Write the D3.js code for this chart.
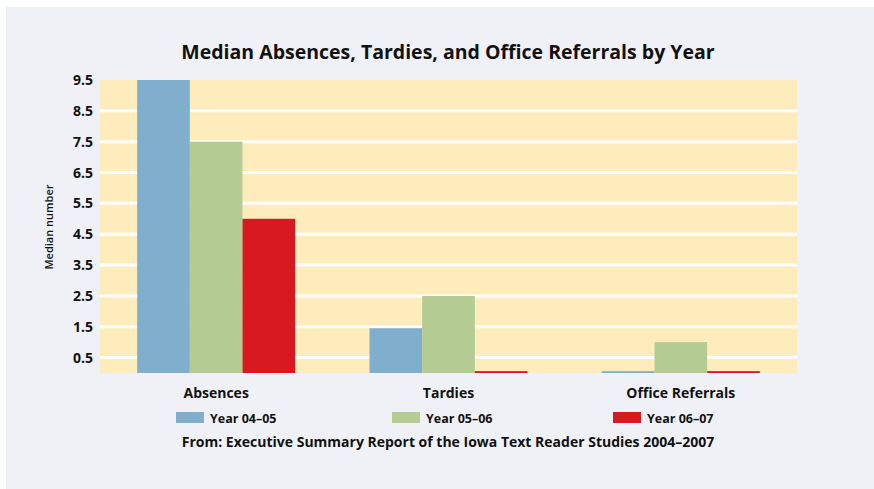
<!DOCTYPE html>
<meta charset="utf-8">
<style>
  body { margin: 0; background: #fff; }
  svg { display: block; font-family: "Open Sans", sans-serif; font-weight: bold; }
</style>
<body>
<script src="https://cdnjs.cloudflare.com/ajax/libs/d3/7.8.5/d3.min.js"></script>
<script>

// chart data
var categories = ["Absences", "Tardies", "Office Referrals"];
var years = ["Year 04\u201305", "Year 05\u201306", "Year 06\u201307"];
var year0405 = [9.5, 1.45, 0.06];
var year0506 = [7.5, 2.5, 1.0];
var year0607 = [5.0, 0.06, 0.06];
var yTicks = [0.5, 1.5, 2.5, 3.5, 4.5, 5.5, 6.5, 7.5, 8.5, 9.5];
var colors = ["#7fafcd", "#b4cc93", "#d91920"];

var series = [year0405, year0506, year0607];

var width = 874, height = 489;

var svg = d3.select("body").append("svg")
    .attr("width", width)
    .attr("height", height);

// grey panel
svg.append("rect")
    .attr("x", 6).attr("y", 7)
    .attr("width", width - 6).attr("height", height - 7)
    .attr("fill", "#f0f1f7");

var plot = {left: 100, right: 797, top: 80, bottom: 373};

var x = d3.scaleBand()
    .domain(categories)
    .range([plot.left, plot.right])
    .paddingInner(0.32)
    .paddingOuter(0.16);

var xSub = d3.scaleBand()
    .domain(d3.range(series.length))
    .range([0, x.bandwidth()]);

var y = d3.scaleLinear()
    .domain([0, 9.5])
    .range([plot.bottom, plot.top]);

// plot background
svg.append("rect")
    .attr("x", plot.left).attr("y", plot.top)
    .attr("width", plot.right - plot.left)
    .attr("height", plot.bottom - plot.top)
    .attr("fill", "#feecbd");

// white gridlines
svg.append("g")
  .selectAll("line")
  .data(yTicks.filter(function(d) { return d < 9.5; }))
  .enter().append("line")
    .attr("x1", plot.left).attr("x2", plot.right)
    .attr("y1", function(d) { return y(d); })
    .attr("y2", function(d) { return y(d); })
    .attr("stroke", "#fff")
    .attr("stroke-width", 3);

// bars
var groups = svg.append("g")
  .selectAll("g")
  .data(categories)
  .enter().append("g")
    .attr("transform", function(d) { return "translate(" + x(d) + ",0)"; });

groups.selectAll("rect")
  .data(function(d, i) { return series.map(function(s, j) { return {s: j, v: s[i]}; }); })
  .enter().append("rect")
    .attr("x", function(d) { return xSub(d.s); })
    .attr("width", xSub.bandwidth())
    .attr("y", function(d) { return y(d.v); })
    .attr("height", function(d) { return y(0) - y(d.v); })
    .attr("fill", function(d) { return colors[d.s]; });

// y axis
var yAxis = svg.append("g")
    .attr("transform", "translate(" + plot.left + ",0)")
    .call(d3.axisLeft(y).tickValues(yTicks).tickSize(0).tickPadding(7).tickFormat(d3.format(".1f")));
yAxis.select(".domain").remove();
yAxis.selectAll("text")
    .attr("font-family", "'Open Sans', sans-serif")
    .attr("font-weight", "bold")
    .attr("font-size", 14)
    .attr("fill", "#111");

svg.append("text")
    .attr("transform", "translate(53,227) rotate(-90)")
    .attr("text-anchor", "middle")
    .attr("font-size", 11)
    .attr("font-weight", 600)
    .attr("fill", "#111")
    .text("Median number");

// title
svg.append("text")
    .attr("x", 448).attr("y", 59)
    .attr("text-anchor", "middle")
    .attr("font-size", 19.5)
    .attr("fill", "#111")
    .text("Median Absences, Tardies, and Office Referrals by Year");

// category labels
svg.append("g")
  .selectAll("text")
  .data(categories)
  .enter().append("text")
    .attr("x", function(d) { return x(d) + x.bandwidth() / 2; })
    .attr("y", 398)
    .attr("text-anchor", "middle")
    .attr("font-size", 14)
    .attr("fill", "#111")
    .text(function(d) { return d; });

// legend
var legendX = [176, 392, 613];
var legend = svg.append("g")
  .selectAll("g")
  .data(years)
  .enter().append("g")
    .attr("transform", function(d, i) { return "translate(" + legendX[i] + ",412)"; });
legend.append("rect")
    .attr("width", 28).attr("height", 11)
    .attr("fill", function(d, i) { return colors[i]; });
legend.append("text")
    .attr("x", 34).attr("y", 11)
    .attr("font-size", 12.5)
    .attr("fill", "#111")
    .text(function(d) { return d; });

// source
svg.append("text")
    .attr("x", 448).attr("y", 447)
    .attr("text-anchor", "middle")
    .attr("font-size", 14)
    .attr("fill", "#111")
    .text("From: Executive Summary Report of the Iowa Text Reader Studies 2004\u20132007");

</script>
</body>
